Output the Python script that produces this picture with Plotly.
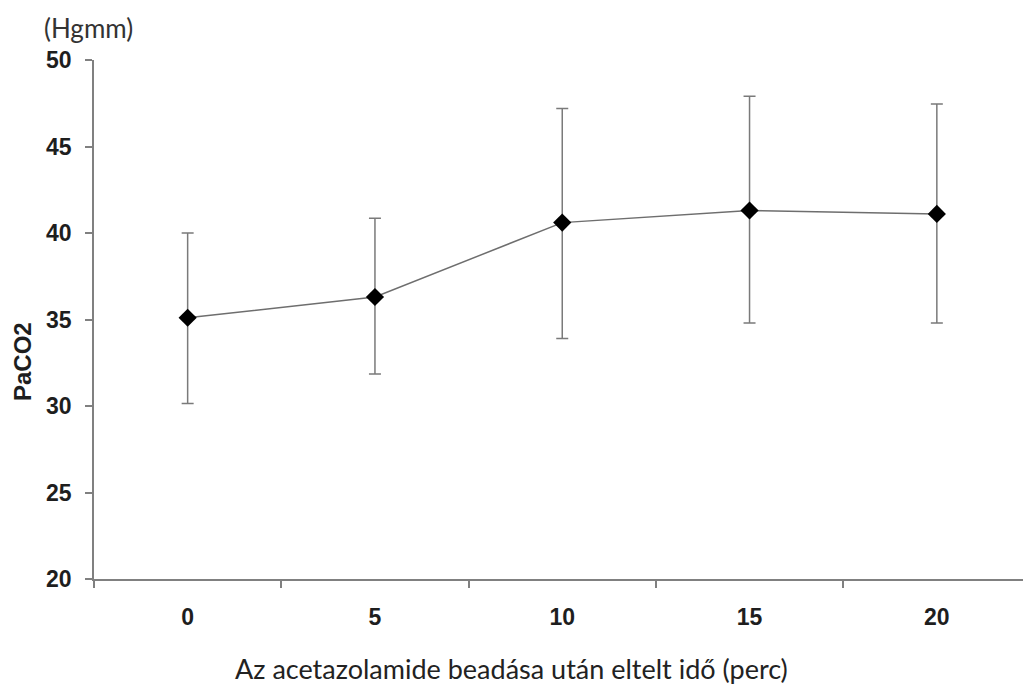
import plotly.graph_objects as go

# PaCO2 after acetazolamide administration, mean ± SD
minutes = ["0", "5", "10", "15", "20"]
paco2_mean = [35.1, 36.3, 40.6, 41.3, 41.1]
paco2_sd_plus = [4.9, 4.55, 6.6, 6.6, 6.35]
paco2_sd_minus = [4.95, 4.45, 6.7, 6.5, 6.3]
y_ticks = [20, 25, 30, 35, 40, 45, 50]

W, H = 1023, 687
L, R, T, B = 94, 0, 60, 108
PW, PH = W - L - R, H - T - B

fig = go.Figure()
fig.add_trace(go.Scatter(
    x=minutes,
    y=paco2_mean,
    mode="lines+markers",
    line=dict(color="#6e6e6e", width=1.5),
    marker=dict(symbol="diamond", size=14, color="black"),
    error_y=dict(
        type="data",
        symmetric=False,
        array=paco2_sd_plus,
        arrayminus=paco2_sd_minus,
        color="#7a7a7a",
        thickness=1.5,
        width=6,
    ),
    showlegend=False,
))

axis_col = "#808080"
tick_font = dict(family="Liberation Sans", size=23, color="#1e1e1e", weight="bold")

fig.update_xaxes(
    type="category",
    range=[-0.5, 4.46],
    tickson="boundaries",
    ticks="outside",
    ticklen=7,
    tickwidth=1.5,
    tickcolor=axis_col,
    showline=True,
    linecolor=axis_col,
    linewidth=1.5,
    showgrid=False,
    zeroline=False,
    tickfont=tick_font,
    ticklabelstandoff=17,
)
fig.update_yaxes(
    range=[20, 50],
    tickvals=y_ticks,
    ticks="outside",
    ticklen=7,
    tickwidth=1.5,
    tickcolor=axis_col,
    showline=True,
    linecolor=axis_col,
    linewidth=1.5,
    showgrid=False,
    zeroline=False,
    tickfont=tick_font,
    ticklabelstandoff=9,
)

fig.add_annotation(
    text="PaCO2", textangle=-90,
    xref="paper", yref="paper", x=(22 - L) / PW, y=(H - B - 362) / PH,
    xanchor="center", yanchor="middle", showarrow=False,
    font=dict(family="Liberation Sans", size=24, color="#1e1e1e", weight="bold"),
)
fig.add_annotation(
    text="(Hgmm)",
    xref="paper", yref="paper", x=(42 - L) / PW, y=1 + (T - 28) / PH,
    xanchor="left", yanchor="middle", showarrow=False,
    font=dict(family="Lato", size=26, color="#333333"),
)
fig.add_annotation(
    text="Az acetazolamide beadása után eltelt idő (perc)",
    xref="paper", yref="paper", x=(511 - L) / PW, y=-(668 - (H - B)) / PH,
    xanchor="center", yanchor="middle", showarrow=False,
    font=dict(family="Lato", size=27, color="#222222"),
)

fig.update_layout(
    width=W, height=H,
    margin=dict(l=L, r=R, t=T, b=B),
    paper_bgcolor="white",
    plot_bgcolor="white",
)

fig.write_html("out.html")
